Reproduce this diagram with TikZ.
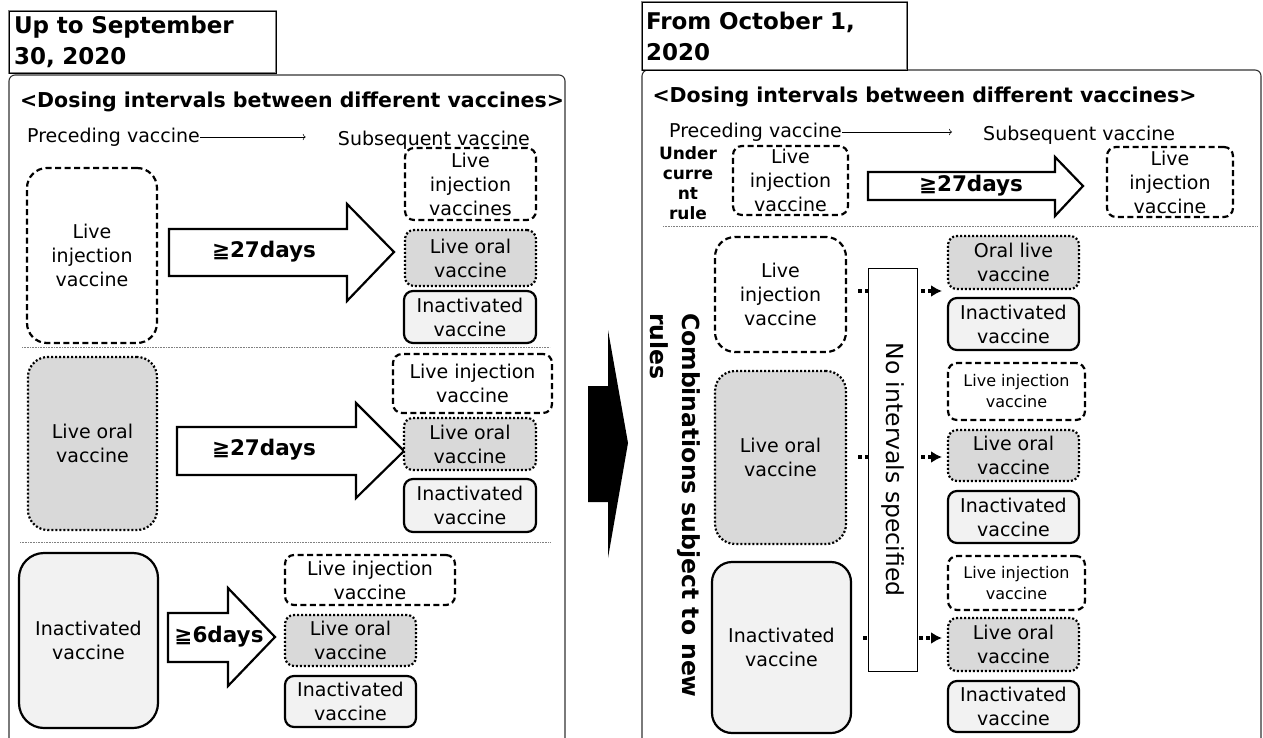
\documentclass[tikz,border=0pt]{standalone}
\usepackage{fontspec}
\setmainfont{DejaVu Sans}
\usetikzlibrary{arrows.meta}

\definecolor{oralgray}{HTML}{D9D9D9}
\definecolor{inactgray}{HTML}{F2F2F2}

\newcommand{\boxfont}{\fontsize{19}{24}\selectfont}
\newcommand{\smallboxfont}{\fontsize{16}{21}\selectfont}
\newcommand{\daysfont}{\fontsize{21.5}{25}\selectfont\bfseries}
\newcommand{\headfont}{\fontsize{20.5}{25}\selectfont\bfseries}
\newcommand{\titlefont}{\fontsize{23}{31}\selectfont\bfseries}

\tikzset{
  wh/.style 2 args={minimum width=#1pt, minimum height=#2pt},
  vbox/.style={draw, line width=2.2pt, rounded corners=9pt, align=center, inner sep=0pt, font=\boxfont},
  injbox/.style={vbox, dash pattern=on 6pt off 3.5pt, fill=white},
  oralbox/.style={vbox, dash pattern=on 2pt off 2pt, fill=oralgray},
  inactbox/.style={vbox, fill=inactgray},
  bigbox/.style={rounded corners=20pt},
  blockarrow/.style={draw, line width=2.2pt, fill=white, line join=miter},
  sepline/.style={gray, line width=0.8pt, dash pattern=on 0.8pt off 0.8pt},
  panel/.style={draw, black!80, line width=1.1pt, rounded corners=6pt},
  titlebox/.style={draw=gray, double=black, double distance=0.8pt, line width=0.8pt, inner sep=4pt, text width=257pt, align=left, font=\titlefont},
  dotarrow/.style={line width=3.6pt, dash pattern=on 3.6pt off 3.4pt, -{Latex[length=11pt,width=12pt]}},
  labeltext/.style={font=\boxfont, inner sep=0pt},
}

\begin{document}
\begin{tikzpicture}[x=1pt, y=-1pt]
  \useasboundingbox (0,0) rectangle (1263,738);

  % before October 2020
  \draw[panel] (9,745) -- (9,75) -- (565,75) -- (565,745);
  \node[titlebox, wh={267}{62}] (ltitle) at (142.5,42) {Up to September\\30, 2020};
  \node[font=\headfont] (lhead) at (292,102) {<Dosing intervals between different vaccines>};
  \node[labeltext, anchor=west] (lprec) at (27,137) {Preceding vaccine};
  \node[labeltext, anchor=east] (lsubs) at (530,140) {Subsequent vaccine};
  \draw[->, line width=0.6pt, shorten >=32pt] (lprec.east) -- (lprec.east -| lsubs.west);

  \node[injbox, bigbox, wh={130}{175}] (la) at (92,255.5) {Live\\injection\\vaccine};
  \draw[blockarrow] (169,229) -- (347,229) -- (347,204) -- (394,252) -- (347,301) -- (347,276) -- (169,276) -- cycle;
  \node[font=\daysfont] (ladays) at (264,252) {≧27days};
  \node[injbox, wh={131}{72}] (la1) at (470.5,184) {Live\\injection\\vaccines};
  \node[oralbox, wh={131}{56}] (la2) at (470.5,258) {Live oral\\vaccine};
  \node[inactbox, wh={132}{52}] (la3) at (470,317) {Inactivated\\vaccine};
  \draw[sepline] (22,347) -- (550,347);

  \node[oralbox, bigbox, wh={129}{173}] (lb) at (92.5,443.5) {Live oral\\vaccine};
  \draw[blockarrow] (177,427) -- (356,427) -- (356,403) -- (404,451) -- (356,498) -- (356,475) -- (177,475) -- cycle;
  \node[font=\daysfont] (lbdays) at (264,450) {≧27days};
  \node[injbox, wh={159}{59}] (lb1) at (472.5,383.5) {Live injection\\vaccine};
  \node[oralbox, wh={132}{52}] (lb2) at (470,444) {Live oral\\vaccine};
  \node[inactbox, wh={132}{53}] (lb3) at (470,505.5) {Inactivated\\vaccine};
  \draw[sepline] (20,542) -- (550,542);

  \node[inactbox, rounded corners=25pt, wh={139}{175}] (lc) at (88.5,640.5) {Inactivated\\vaccine};
  \draw[blockarrow] (168,613) -- (228,613) -- (228,588) -- (275,637) -- (228,686) -- (228,662) -- (168,662) -- cycle;
  \node[font=\daysfont] (lcdays) at (219,637) {≧6days};
  \node[injbox, wh={170}{50}] (lc1) at (370,580) {Live injection\\vaccine};
  \node[oralbox, wh={131}{51}] (lc2) at (350.5,640.5) {Live oral\\vaccine};
  \node[inactbox, wh={131}{51}] (lc3) at (350.5,701.5) {Inactivated\\vaccine};

  \fill (588,386) -- (608,386) -- (608,330) -- (628,443) -- (608,558) -- (608,502) -- (588,502) -- cycle;

  % from October 2020
  \draw[panel] (642,745) -- (642,70) -- (1261,70) -- (1261,745);
  \node[titlebox, wh={265}{68}] (rtitle) at (774.5,36) {From October 1,\\2020};
  \node[font=\headfont] (rhead) at (924.5,97) {<Dosing intervals between different vaccines>};
  \node[labeltext, anchor=west] (rprec) at (669,132) {Preceding vaccine};
  \node[labeltext, anchor=west] (rsubs) at (983,135) {Subsequent vaccine};
  \draw[->, line width=0.6pt, shorten >=31pt] (rprec.east) -- (rprec.east -| rsubs.west);

  \node[font=\fontsize{17}{20}\selectfont\bfseries, align=center, inner sep=0pt] (rule) at (688,183) {Under\\curre\\nt\\rule};
  \node[injbox, wh={115}{69}] (ra0) at (790.5,180.5) {Live\\injection\\vaccine};
  \draw[blockarrow] (868,172) -- (1055,172) -- (1055,157) -- (1083,186) -- (1055,216) -- (1055,200) -- (868,200) -- cycle;
  \node[font=\daysfont] (rdays) at (971,186) {≧27days};
  \node[injbox, wh={126}{70}] (rb0) at (1170,182) {Live\\injection\\vaccine};
  \draw[sepline] (663,226) -- (1257,226);

  \node[font=\fontsize{23.5}{32}\selectfont\bfseries, rotate=-90, anchor=north west, align=left, inner sep=0pt] (newrules) at (701,313) {Combinations subject to new\\rules};

  \node[injbox, bigbox, wh={131}{115}] (pa) at (780.5,294.5) {Live\\injection\\vaccine};
  \node[oralbox, bigbox, wh={131}{173}] (pb) at (780.5,457.5) {Live oral\\vaccine};
  \node[inactbox, bigbox, wh={139}{171}] (pc) at (781.5,647.5) {Inactivated\\vaccine};

  \coordinate (ta) at (942,291);
  \coordinate (tb) at (942,457);
  \coordinate (tc) at (942,638);
  \draw[dotarrow, shorten <=11pt] (pa.east |- ta) -- (ta);
  \draw[dotarrow, shorten <=11pt] (pb.east |- tb) -- (tb);
  \draw[dotarrow, shorten <=11pt] (pc.east |- tc) -- (tc);
  \node[draw, line width=0.9pt, fill=white, rotate=-90, wh={403}{49}, font=\fontsize{23.5}{26}\selectfont] (noint) at (892.5,469.5) {No intervals specified};

  \node[oralbox, wh={131}{53}] (q1) at (1013.5,262.5) {Oral live\\vaccine};
  \node[inactbox, wh={131}{52}] (q2) at (1013.5,324) {Inactivated\\vaccine};
  \node[injbox, font=\smallboxfont, wh={137}{57}] (q3) at (1016.5,391.5) {Live injection\\vaccine};
  \node[oralbox, wh={131}{51}] (q4) at (1013.5,455.5) {Live oral\\vaccine};
  \node[inactbox, wh={131}{52}] (q5) at (1013.5,517) {Inactivated\\vaccine};
  \node[injbox, font=\smallboxfont, wh={137}{54}] (q6) at (1016.5,583) {Live injection\\vaccine};
  \node[oralbox, wh={131}{53}] (q7) at (1013.5,644.5) {Live oral\\vaccine};
  \node[inactbox, wh={131}{51}] (q8) at (1013.5,706.5) {Inactivated\\vaccine};
\end{tikzpicture}
\end{document}
